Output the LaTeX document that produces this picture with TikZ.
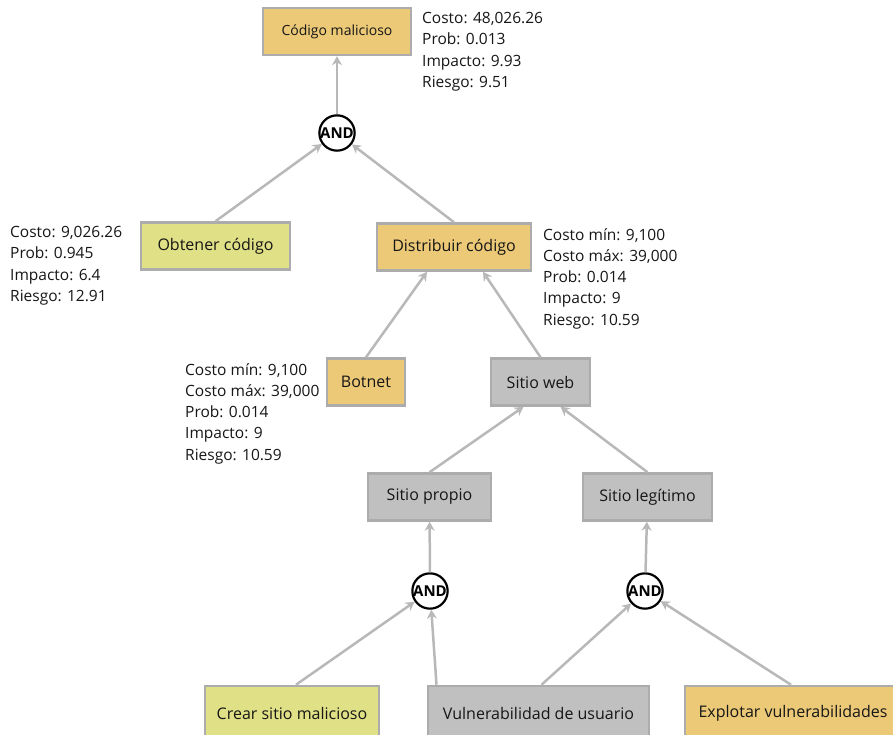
\documentclass[tikz,border=0pt]{standalone}
\usepackage{fontspec}
\setmainfont{Open Sans}
\usetikzlibrary{arrows.meta}

\definecolor{edgegray}{RGB}{184,184,184}
\definecolor{boxborder}{RGB}{172,172,172}
\definecolor{orangefill}{RGB}{236,201,119}
\definecolor{greenfill}{RGB}{224,224,134}
\definecolor{grayfill}{RGB}{192,192,192}
\definecolor{ink}{RGB}{22,22,22}

\begin{document}
\begin{tikzpicture}[x=1pt,y=-1pt,
  box/.style={draw=boxborder, line width=2.5pt, minimum height=47pt, inner sep=0pt,
    font=\fontsize{16}{19}\selectfont, text=ink},
  orangebox/.style={box, fill=orangefill},
  greenbox/.style={box, fill=greenfill},
  graybox/.style={box, fill=grayfill},
  gate/.style={circle, draw=black, line width=2.2pt, fill=white, minimum size=33pt,
    inner sep=0pt, font=\bfseries\fontsize{15}{15}\selectfont, text=black},
  edge/.style={draw=edgegray, line width=2.5pt,
    -{Stealth[length=9pt,width=10pt,inset=3pt]}},
  info/.style={anchor=north west, align=left, inner sep=0pt,
    font=\fontsize{15.5}{21.3}\selectfont, text=ink}
]
\useasboundingbox (0,0) rectangle (893,734);
\clip (0,0) rectangle (893,734);

% attack tree nodes
\node[orangebox, minimum width=148pt, font=\fontsize{14}{16}\selectfont] (codigo) at (337,31.5) {Código malicioso};
\node[gate] (and1) at (337,133) {AND};
\node[greenbox, minimum width=149pt] (obtener) at (215.5,246) {Obtener código};
\node[orangebox, minimum width=154pt] (distribuir) at (454,247) {Distribuir código};
\node[orangebox, minimum width=78pt] (botnet) at (366,382) {Botnet};
\node[graybox, minimum width=99pt] (web) at (540.5,382) {Sitio web};
\node[graybox, minimum width=123pt] (propio) at (429.5,497) {Sitio propio};
\node[graybox, minimum width=129pt] (legitimo) at (647.5,497) {Sitio legítimo};
\node[gate] (and2) at (430,591) {AND};
\node[gate] (and3) at (645,591) {AND};
\node[greenbox, minimum width=174pt, minimum height=54pt] (crear) at (292,713) {Crear sitio malicioso};
\node[graybox, minimum width=221pt, minimum height=54pt] (vuln) at (538.5,713) {Vulnerabilidad de usuario};
\node[orangebox, minimum width=216pt, minimum height=54pt] (explotar) at (793,713) {Explotar vulnerabilidades};

% connectors, child to parent
\draw[edge] (and1) -- (codigo);
\draw[edge] (obtener.north) -- (and1);
\draw[edge] (distribuir.north) -- (and1);
\draw[edge] (botnet.north) -- ([xshift=-27pt]distribuir.south);
\draw[edge] (web.north) -- ([xshift=29pt]distribuir.south);
\draw[edge] (propio.north) -- ([xshift=-17pt]web.south);
\draw[edge] (legitimo.north) -- ([xshift=20pt]web.south);
\draw[edge] (and2) -- (propio);
\draw[edge] (and3) -- (legitimo);
\draw[edge] ([xshift=4pt]crear.north) -- (and2);
\draw[edge] ([xshift=-102pt]vuln.north) -- (and2);
\draw[edge] ([xshift=3pt]vuln.north) -- (and3);
\draw[edge] ([xshift=-2pt]explotar.north) -- (and3);

% metric annotations
\node[info] (infoCodigo) at (422,12) {Costo: 48,026.26\\Prob: 0.013\\Impacto: 9.93\\Riesgo: 9.51};
\node[info] (infoObtener) at (10,226) {Costo: 9,026.26\\Prob: 0.945\\Impacto: 6.4\\Riesgo: 12.91};
\node[info] (infoDistribuir) at (543,228) {Costo mín: 9,100\\Costo máx: 39,000\\Prob: 0.014\\Impacto: 9\\Riesgo: 10.59};
\node[info] (infoBotnet) at (185,363) {Costo mín: 9,100\\Costo máx: 39,000\\Prob: 0.014\\Impacto: 9\\Riesgo: 10.59};
\end{tikzpicture}
\end{document}
